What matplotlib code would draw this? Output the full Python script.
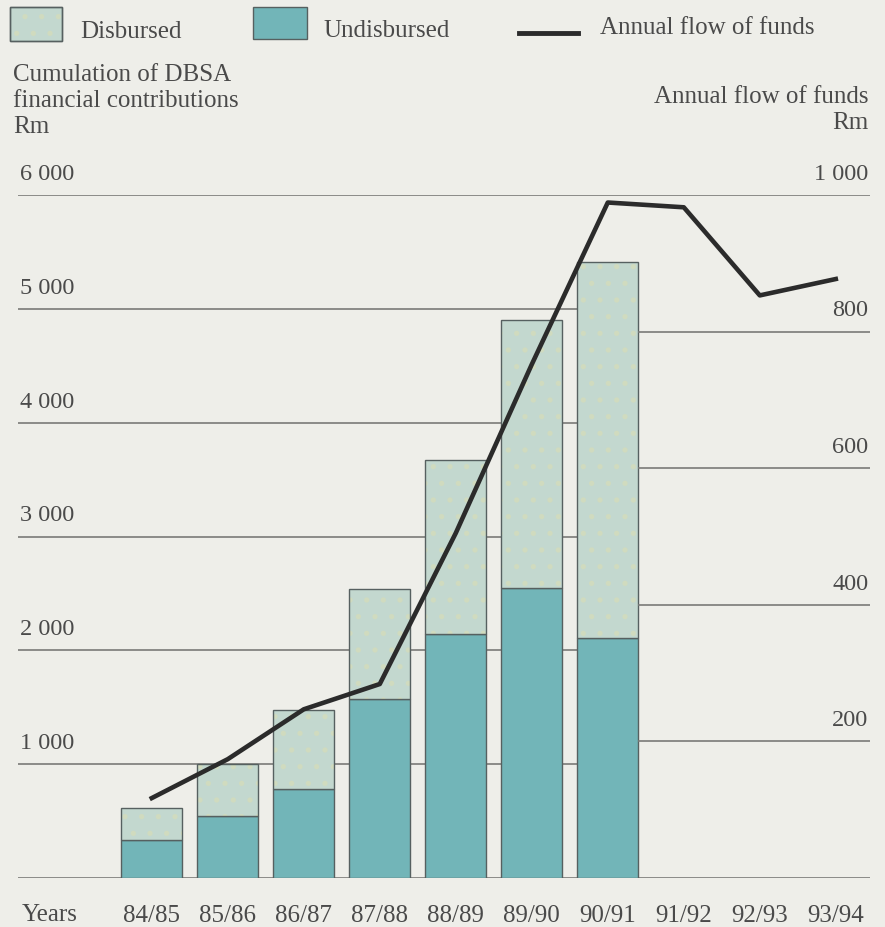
import matplotlib.pyplot as plt
import numpy as np
from matplotlib.lines import Line2D
from matplotlib.patches import Rectangle

plt.rcParams['font.family'] = ['Liberation Serif', 'DejaVu Serif']
plt.rcParams['hatch.linewidth'] = 1.4

# data
years = ['84/85', '85/86', '86/87', '87/88', '88/89', '89/90', '90/91',
         '91/92', '92/93', '93/94']
total = [615, 1002, 1476, 2540, 3673, 4903, 5413]       # cumulated, Rm
undisbursed = [334, 545, 782, 1570, 2144, 2548, 2109]    # Rm
flow = [117, 174, 247, 284, 505, 752, 989, 982, 853, 877]  # annual flow, Rm
left_ticks = [0, 1000, 2000, 3000, 4000, 5000, 6000]
right_ticks = [0, 200, 400, 600, 800, 1000]

disbursed = [t - u for t, u in zip(total, undisbursed)]

BG = '#eeeee9'
TXT = '#4a4a4a'
GRID = '#7a7a78'
C_UND = '#72b5b8'
C_DIS = '#c3d8cf'
HATCH = '#d0dbbf'
EDGE = '#566060'
FS = 18

W, H = 885, 928
fig = plt.figure(figsize=(W / 100, H / 100), dpi=100, facecolor=BG)
ax = fig.add_axes([18 / W, 1 - 879 / H, 852 / W, 683 / H])
ax.set_facecolor(BG)
ax.set_xlim(-1.76, 9.45)
ax.set_ylim(0, 6000)

x_bar = np.arange(len(total))
bw = 0.8
bar_right = x_bar[-1] + bw / 2

# left gridlines run behind the bars, right ones start after the last bar
x0, x1 = ax.get_xlim()
for v in left_ticks[1:-1]:
    ax.hlines(v, x0, bar_right, color=GRID, lw=1.2, zorder=0)
for v in (left_ticks[0], left_ticks[-1]):
    ax.hlines(v, x0, x1, color=GRID, lw=1.2, zorder=0)

ax.bar(x_bar, undisbursed, bw, color=C_UND, edgecolor=EDGE, lw=1, zorder=2)
ax.bar(x_bar, disbursed, bw, bottom=undisbursed, color=C_DIS, lw=0, zorder=2)
ax.bar(x_bar, disbursed, bw, bottom=undisbursed, fill=False, hatch='.',
       edgecolor=HATCH, lw=0, zorder=2.5)
ax.bar(x_bar, disbursed, bw, bottom=undisbursed, fill=False,
       edgecolor=EDGE, lw=1, zorder=2.6)

ax2 = ax.twinx()
ax2.set_ylim(0, 1000)
for v in right_ticks[1:-1]:
    ax2.hlines(v, bar_right, x1, color=GRID, lw=1.2, zorder=0)
ax2.plot(np.arange(len(years)), flow, color='#2b2b2b', lw=3.3, zorder=5)

for a in (ax, ax2):
    for s in a.spines.values():
        s.set_visible(False)
    a.tick_params(length=0)
    a.set_yticks([])

ax.set_xticks(np.arange(len(years)), years)
ax.tick_params(axis='x', pad=19, labelsize=FS, labelcolor=TXT)

# tick labels sitting above the gridlines
for v in left_ticks[1:]:
    ax.annotate(f'{v:,}'.replace(',', ' '), (0.002, v), xycoords=ax.get_yaxis_transform(),
                xytext=(0, 8), textcoords='offset points',
                ha='left', va='bottom', fontsize=FS - 0.5, color=TXT)
for v in right_ticks[1:]:
    ax2.annotate(f'{v:,}'.replace(',', ' '), (0.998, v), xycoords=ax2.get_yaxis_transform(),
                 xytext=(0, 8), textcoords='offset points',
                 ha='right', va='bottom', fontsize=FS - 0.5, color=TXT)

fig.text(22 / W, 1 - 915 / H, 'Years', ha='left', va='center', fontsize=FS, color=TXT)

# axis titles
for i, s in enumerate(['Cumulation of DBSA', 'financial contributions', 'Rm']):
    fig.text(13 / W, 1 - (75 + 26 * i) / H, s, ha='left', va='center',
             fontsize=FS, color=TXT)
fig.text(868 / W, 1 - 97 / H, 'Annual flow of funds', ha='right', va='center',
         fontsize=FS, color=TXT)
fig.text(868 / W, 1 - 123 / H, 'Rm', ha='right', va='center', fontsize=FS, color=TXT)

# legend strip at the top
def fig_rect(px0, py0, px1, py1, **kw):
    fig.add_artist(Rectangle((px0 / W, 1 - py1 / H), (px1 - px0) / W, (py1 - py0) / H,
                             transform=fig.transFigure, **kw))

fig_rect(10, 8, 62, 42, facecolor=C_DIS, edgecolor=EDGE, lw=1)
fig_rect(10, 8, 62, 42, fill=False, hatch='.', edgecolor=HATCH, lw=0)
fig_rect(10, 8, 62, 42, fill=False, edgecolor=EDGE, lw=1)
fig.text(80 / W, 1 - 32 / H, 'Disbursed', ha='left', va='center', fontsize=FS, color=TXT)
fig_rect(253, 8, 307, 40, facecolor=C_UND, edgecolor=EDGE, lw=1)
fig.text(323 / W, 1 - 31 / H, 'Undisbursed', ha='left', va='center', fontsize=FS, color=TXT)
fig.add_artist(Line2D([519 / W, 578 / W], [1 - 34 / H, 1 - 34 / H], color='#2b2b2b',
                      lw=3.5, transform=fig.transFigure))
fig.text(600 / W, 1 - 28 / H, 'Annual flow of funds', ha='left', va='center',
         fontsize=FS, color=TXT)

fig.savefig('out.png', dpi=100, facecolor=BG)
